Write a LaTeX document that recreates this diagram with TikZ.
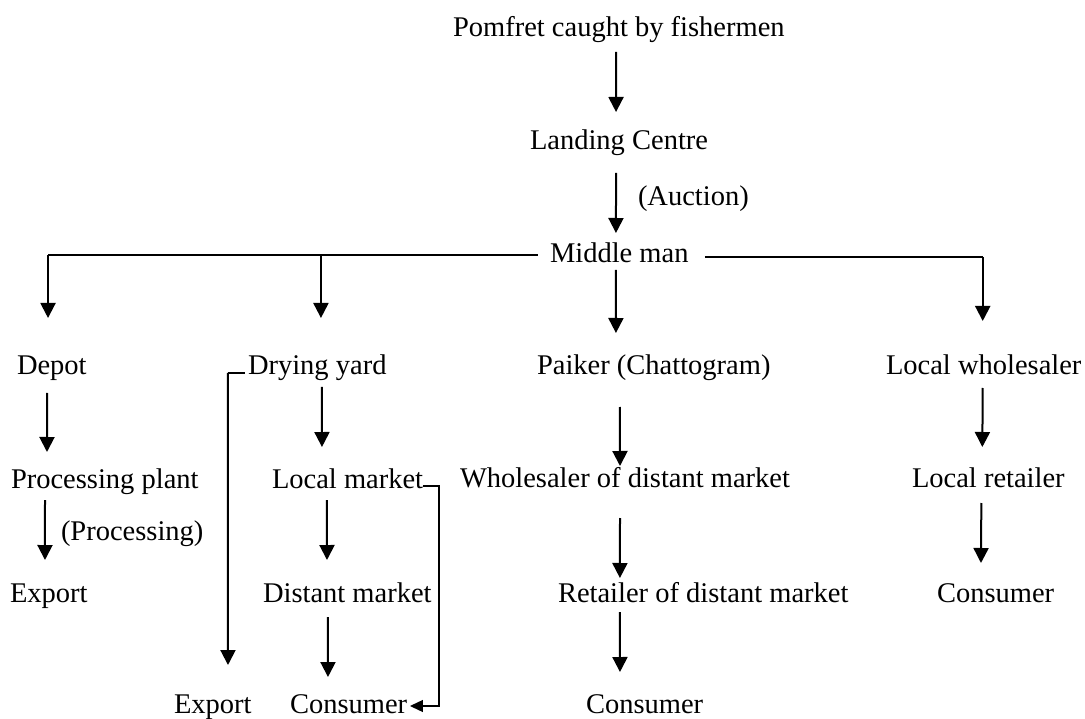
\documentclass[tikz,border=0pt]{standalone}
\usepackage{fontspec}
\setmainfont{Liberation Serif}
\usetikzlibrary{arrows.meta}
\begin{document}
\begin{tikzpicture}[x=1pt,y=-1pt,
  lbl/.style={anchor=base west, inner sep=0pt, outer sep=0pt,
              font=\fontsize{28.5}{34}\selectfont},
  arr/.style={line width=2pt, -{Triangle[length=15pt,width=15pt]}},
  bar/.style={line width=1.3pt},
  barr/.style={line width=1.3pt, -{Triangle[length=13pt,width=12pt]}}]
\useasboundingbox (0,0) rectangle (1085,719);

% labels (placed by left end of baseline)
\node[lbl] (top)   at (453,37)  {Pomfret caught by fishermen};
\node[lbl] (land)  at (530,150) {Landing Centre};
\node[lbl] (auct)  at (638,206) {(Auction)};
\node[lbl] (mid)   at (550,263) {Middle man};

\node[lbl] (depot) at (17,375)  {Depot};
\node[lbl] (dry)   at (248,375) {Drying yard};
\node[lbl] (paik)  at (537,375) {Paiker (Chattogram)};
\node[lbl] (lwh)   at (886,375) {Local wholesaler};

\node[lbl] (proc)  at (11,488)  {Processing plant};
\node[lbl] (procl) at (61,540)  {(Processing)};
\node[lbl] (lmkt)  at (272,488) {Local market};
\node[lbl] (wdm)   at (460,487) {Wholesaler of distant market};
\node[lbl] (lret)  at (912,487) {Local retailer};

\node[lbl] (exp1)  at (10,602)  {Export};
\node[lbl] (dmkt)  at (263,602) {Distant market};
\node[lbl] (rdm)   at (558,602) {Retailer of distant market};
\node[lbl] (cons1) at (937,602) {Consumer};

\node[lbl] (exp2)  at (174,713) {Export};
\node[lbl] (cons2) at (290,713) {Consumer};
\node[lbl] (cons3) at (586,713) {Consumer};

% main chain
\draw[arr] ([shift={(-2.8,15)}]top.base) -- ([shift={(-3,-38)}]land.base);
\draw[arr] ([shift={(-3,23)}]land.base) -- ([shift={(-3.3,-30)}]mid.base);

% distribution bars from the middle man
\coordinate (lbar) at ([shift={(-81.3,-8)}]mid.base);
\coordinate (rbar) at ([shift={(85.7,-6)}]mid.base);
\coordinate (tdepot) at ([shift={(-3.8,-57)}]depot.base);
\coordinate (tdry)   at ([shift={(3.7,-57)}]dry.base);
\coordinate (tlwh)   at ([shift={(-1,-54)}]lwh.base);
\draw[bar] (lbar) -| (tdepot |- lbar);
\draw[bar] (rbar) -| (tlwh |- rbar);
\draw[arr] (tdepot |- lbar) -- (tdepot);
\draw[arr] (tdry |- lbar) -- (tdry);
\draw[arr] (tlwh |- rbar) -- (tlwh);
\draw[arr] ([shift={(-3.3,7)}]mid.base) -- ([shift={(-37.8,-42)}]paik.base);

% depot branch
\draw[arr] ([shift={(-4.8,18)}]depot.base) -- ([shift={(-57.8,-36)}]proc.base);
\draw[arr] ([shift={(-59.8,12)}]proc.base) -- ([shift={(-3.8,-42)}]exp1.base);

% drying yard branch
\draw[arr] ([shift={(4.7,12)}]dry.base) -- ([shift={(-25.6,-41)}]lmkt.base);
\draw[arr] ([shift={(-20.6,12)}]lmkt.base) -- ([shift={(-20.3,-42)}]dmkt.base);
\draw[arr] ([shift={(-19.3,15)}]dmkt.base) -- ([shift={(-20.6,-36)}]cons2.base);
\draw[bar] ([shift={(-72.3,-2)}]dry.base) -- ++(-17,0);
\draw[arr] ([shift={(-89.3,-2)}]dry.base) -- ([shift={(15.2,-48)}]exp2.base);
\draw[barr] ([shift={(75.4,-2)}]lmkt.base) -- ++(16,0) |- ([shift={(61.4,-7)}]cons2.base);

% paiker branch
\draw[arr] ([shift={(-33.8,32)}]paik.base) -- ([shift={(-5,-21)}]wdm.base);
\draw[arr] ([shift={(-5,31)}]wdm.base) -- ([shift={(-83.3,-24)}]rdm.base);
\draw[arr] ([shift={(-83.3,10)}]rdm.base) -- ([shift={(-24.6,-41)}]cons3.base);

% local wholesaler branch
\draw[arr] ([shift={(-1,13)}]lwh.base) -- ([shift={(-6,-40)}]lret.base);
\draw[arr] ([shift={(-7,16)}]lret.base) -- ([shift={(-14.6,-39)}]cons1.base);
\end{tikzpicture}
\end{document}
